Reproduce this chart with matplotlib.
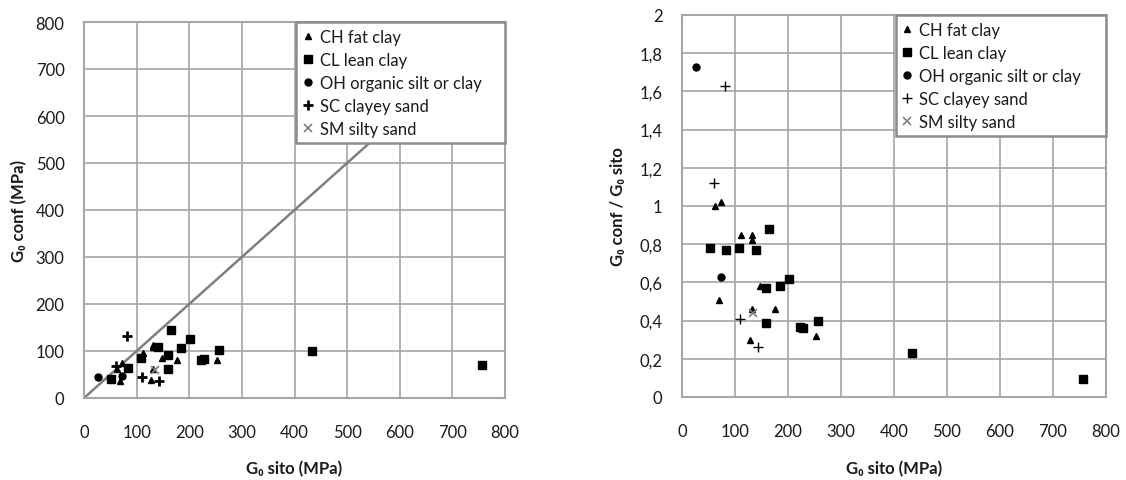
import matplotlib
matplotlib.use("Agg")
import matplotlib.pyplot as plt
import numpy as np
from matplotlib.ticker import MultipleLocator, FuncFormatter

plt.rcParams["font.family"] = ["Lato", "DejaVu Sans"]

# G0 sito (MPa) and G0 conf / G0 sito per soil class
ch_sito = [62, 73, 112, 132, 132, 69, 148, 132, 176, 252, 128]
ch_ratio = [1.00, 1.02, 0.85, 0.85, 0.82, 0.51, 0.58, 0.46, 0.46, 0.32, 0.30]

cl_sito = [165, 52, 83, 108, 140, 159, 184, 202, 159, 222, 228, 256, 434, 757]
cl_ratio = [0.88, 0.78, 0.77, 0.78, 0.77, 0.57, 0.58, 0.62, 0.39, 0.365, 0.36, 0.40, 0.23, 0.092]

oh_sito = [26, 73]
oh_ratio = [1.73, 0.63]

sc_sito = [81, 61, 110, 143]
sc_ratio = [1.63, 1.12, 0.41, 0.26]

sm_sito = [134]
sm_ratio = [0.44]

labels = ["CH fat clay", "CL lean clay", "OH organic silt or clay",
          "SC clayey sand", "SM silty sand"]

GRID = "#a6a6a6"
TXT = "#1a1a1a"
FS = 12

fig = plt.figure(figsize=(11.26, 4.81), dpi=100)
ax1 = fig.add_axes([84 / 1126, 82 / 481, 421 / 1126, 376 / 481])
ax2 = fig.add_axes([682 / 1126, 83 / 481, 424 / 1126, 382 / 481])

groups = [
    (ch_sito, ch_ratio, dict(marker="^", ms=5, color="black", ls="none")),
    (cl_sito, cl_ratio, dict(marker="s", ms=5.5, color="black", ls="none")),
    (oh_sito, oh_ratio, dict(marker="o", ms=5, color="black", ls="none")),
    (sc_sito, sc_ratio, dict(marker="+", ms=7, color="black", ls="none")),
    (sm_sito, sm_ratio, dict(marker="x", ms=6, color="#7f7f7f", mew=1.2, ls="none")),
]


def style_axes(ax):
    ax.grid(True, color=GRID, lw=1.2)
    ax.set_axisbelow(True)
    for sp in ax.spines.values():
        sp.set_color(GRID)
        sp.set_linewidth(1.5)
    ax.tick_params(length=0, labelsize=FS, colors=TXT)
    ax.tick_params(axis="y", pad=14)
    ax.tick_params(axis="x", pad=19)
    ax.xaxis.set_major_locator(MultipleLocator(100))
    ax.set_xlim(0, 800)


def add_legend(ax, handles):
    leg = ax.legend(handles, labels, loc="upper left",
                    bbox_to_anchor=(0.504, 1.0, 0.496, 0.0), mode="expand",
                    borderaxespad=0, fancybox=False, framealpha=1,
                    edgecolor="#8c8c8c", fontsize=FS, handlelength=0.6,
                    handletextpad=0.4, labelspacing=0.42, borderpad=0.4)
    leg.get_frame().set_linewidth(1.8)
    for t in leg.get_texts():
        t.set_color(TXT)
    leg.set_zorder(5)


# left: G0 conf vs G0 sito
style_axes(ax1)
ax1.set_ylim(0, 800)
ax1.yaxis.set_major_locator(MultipleLocator(100))
ax1.plot([0, 800], [0, 800], color="#7f7f7f", lw=1.8, zorder=2)
h1 = []
for sito, ratio, kw in groups:
    conf = np.array(sito) * np.array(ratio)
    kw = dict(kw)
    if kw["marker"] == "+":
        kw["mew"] = 2
    h, = ax1.plot(sito, conf, zorder=3, clip_on=False, **kw)
    h1.append(h)
add_legend(ax1, h1)
ax1.set_xlabel("G\u2080 sito (MPa)", fontsize=FS, fontweight="bold", color=TXT)
ax1.set_ylabel("G\u2080 conf (MPa)", fontsize=FS, fontweight="bold", color=TXT)
ax1.xaxis.set_label_coords(0.5, -0.165)
ax1.yaxis.set_label_coords(-0.135, 0.5)

# right: ratio vs G0 sito
style_axes(ax2)
ax2.set_ylim(0, 2)
ax2.yaxis.set_major_locator(MultipleLocator(0.2))
ax2.yaxis.set_major_formatter(FuncFormatter(lambda v, p: f"{v:g}".replace(".", ",")))
h2 = []
for sito, ratio, kw in groups:
    kw = dict(kw)
    if kw["marker"] == "+":
        kw["mew"] = 1
    h, = ax2.plot(sito, ratio, zorder=3, **kw)
    h2.append(h)
add_legend(ax2, h2)
ax2.set_xlabel("G\u2080 sito (MPa)", fontsize=FS, fontweight="bold", color=TXT)
ax2.set_ylabel("G\u2080 conf / G\u2080 sito", fontsize=FS, fontweight="bold", color=TXT)
ax2.xaxis.set_label_coords(0.5, -0.165)
ax2.yaxis.set_label_coords(-0.132, 0.5)

fig.savefig("out.png", dpi=100)
